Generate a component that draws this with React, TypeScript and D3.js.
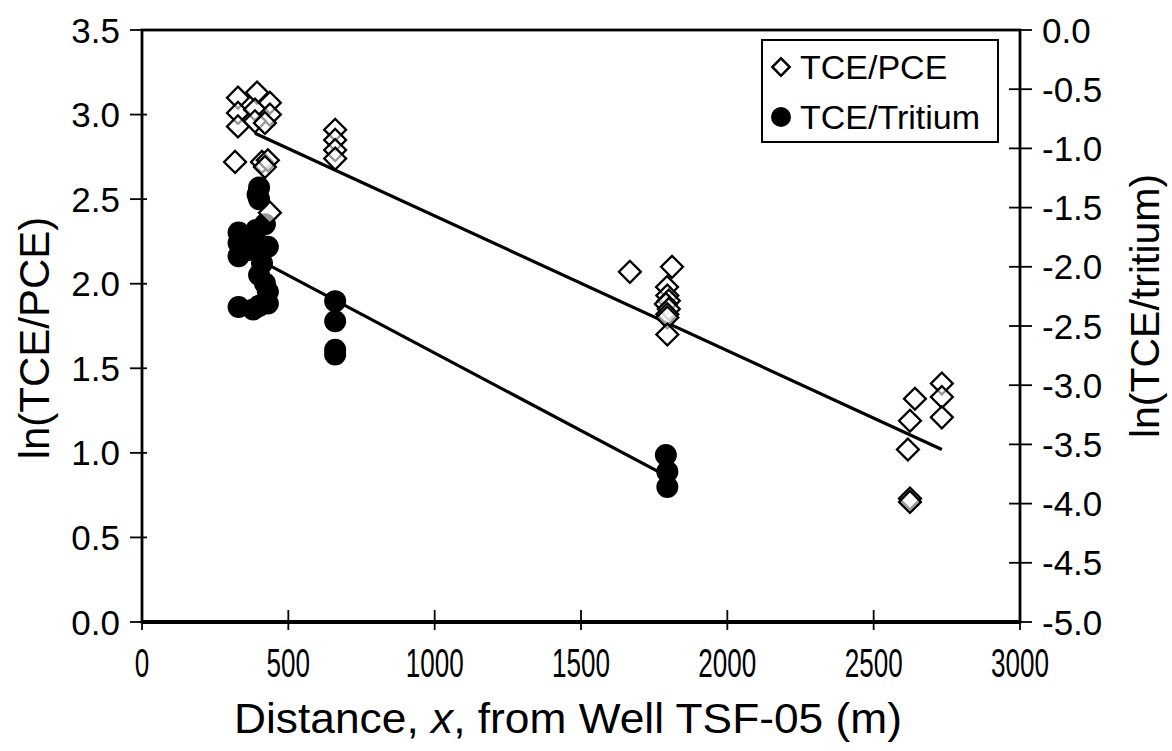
import React from "react";
import * as d3 from "d3";

// ---- data ----
// TCE/PCE: distance (m), ln(TCE/PCE)  (left axis)
const pceDist = [328, 393, 328, 386, 437, 437, 328, 386, 420, 318, 410, 430, 420, 437,
  660, 660, 660, 660,
  1667, 1811, 1794, 1795, 1800, 1790, 1800, 1795, 1795, 1795,
  2733, 2733, 2733, 2641, 2624, 2617, 2624, 2624];
const pceVal = [3.10, 3.13, 3.01, 3.03, 3.07, 3.00, 2.93, 2.96, 2.95, 2.72, 2.72, 2.73, 2.69, 2.42,
  2.91, 2.85, 2.79, 2.74,
  2.07, 2.10, 1.98, 1.93, 1.90, 1.88, 1.85, 1.82, 1.80, 1.70,
  1.41, 1.33, 1.21, 1.32, 1.19, 1.02, 0.73, 0.71];
// TCE/Tritium: distance (m), ln(TCE/tritium)  (right axis)
const triDist = [400, 400, 395, 330, 330, 330, 360, 360, 390, 390, 420, 430, 410, 400, 420, 430, 430, 330, 380, 400,
  660, 660, 660, 660,
  1790, 1795, 1795];
const triVal = [-1.33, -1.43, -1.39, -1.71, -1.80, -1.91, -1.74, -1.86, -1.69, -1.83, -1.64, -1.83, -1.97, -2.07, -2.14, -2.21, -2.31, -2.34, -2.36, -2.33,
  -2.29, -2.46, -2.70, -2.74,
  -3.59, -3.73, -3.86];
// fitted lines (endpoints)
const pceFitDist = [386, 2733];
const pceFitVal = [2.89, 1.02];
const triFitDist = [437, 1787];
const triFitVal = [-1.99, -3.76];

const xTicks = [0, 500, 1000, 1500, 2000, 2500, 3000];
const yLeftTicks = [0, 0.5, 1, 1.5, 2, 2.5, 3, 3.5];
const yRightTicks = [0, -0.5, -1, -1.5, -2, -2.5, -3, -3.5, -4, -4.5, -5];
const legendLabels = ["TCE/PCE", "TCE/Tritium"];

const W = 1172, H = 751;
const L = 142, R = 1020, T = 30, B = 622;
const FONT = "'Liberation Sans', Arial, Helvetica, sans-serif";

export default function App() {
  const x = d3.scaleLinear().domain([0, 3000]).range([L, R]);
  const yL = d3.scaleLinear().domain([0, 3.5]).range([B, T]);
  const yR = d3.scaleLinear().domain([-5, 0]).range([B, T]);
  const diamond = d3.symbol().type(d3.symbolSquare).size(240)();
  const line = d3.line<[number, number]>();
  const pceLine = line(pceFitDist.map((d, i) => [x(d), yL(pceFitVal[i])]));
  const triLine = line(triFitDist.map((d, i) => [x(d), yR(triFitVal[i])]));

  return (
    <svg width={W} height={H} style={{ position: "absolute", left: 0, top: 0, background: "#fff" }}
      fontFamily={FONT}>
      <rect x={0} y={0} width={W} height={H} fill="#fff" />
      {/* frame */}
      <rect x={L} y={T} width={R - L} height={B - T} fill="none" stroke="#000" strokeWidth={2.8} />
      <line x1={L} x2={R} y1={B} y2={B} stroke="#000" strokeWidth={3.8} />
      {/* left ticks */}
      {yLeftTicks.map((t) => (
        <g key={"yl" + t}>
          <line x1={L - 12} x2={L + 5} y1={yL(t)} y2={yL(t)} stroke="#000" strokeWidth={1.8} />
          <text x={L - 22} y={yL(t)} dy="0.36em" textAnchor="end" fontSize={35}>{t.toFixed(1)}</text>
        </g>
      ))}
      {/* right ticks */}
      {yRightTicks.map((t) => (
        <g key={"yr" + t}>
          <line x1={R - 11} x2={R + 12} y1={yR(t)} y2={yR(t)} stroke="#000" strokeWidth={1.8} />
          <text x={R + 22} y={yR(t)} dy="0.36em" textAnchor="start" fontSize={35}>{t === 0 ? "0.0" : t.toFixed(1)}</text>
        </g>
      ))}
      {/* x ticks */}
      {xTicks.map((t) => (
        <g key={"x" + t}>
          <line x1={x(t)} x2={x(t)} y1={B - 12} y2={B + 8} stroke="#000" strokeWidth={1.8} />
          <text x={x(t)} y={B + 55} textAnchor="middle" fontSize={40}
            textLength={String(t).length * 14.5} lengthAdjust="spacingAndGlyphs">{t}</text>
        </g>
      ))}
      {/* axis titles */}
      <text x={568} y={733} textAnchor="middle" fontSize={42}
        textLength={668} lengthAdjust="spacingAndGlyphs">
        Distance, <tspan fontStyle="italic">x</tspan>, from Well TSF-05 (m)
      </text>
      <text transform={`translate(49,${(T + B) / 2 + 12}) rotate(-90)`} textAnchor="middle" fontSize={42}>ln(TCE/PCE)</text>
      <text transform={`translate(1159,${(T + B) / 2 - 20}) rotate(-90)`} textAnchor="middle" fontSize={41}>ln(TCE/tritium)</text>
      {/* fitted lines */}
      <path d={pceLine || ""} fill="none" stroke="#000" strokeWidth={3.2} />
      <path d={triLine || ""} fill="none" stroke="#000" strokeWidth={3.2} />
      {/* TCE/Tritium points */}
      {triDist.map((d, i) => (
        <circle key={"c" + i} cx={x(d)} cy={yR(triVal[i])} r={11} fill="#000" />
      ))}
      {/* TCE/PCE points */}
      {pceDist.map((d, i) => (
        <path key={"d" + i} d={diamond} transform={`translate(${x(d)},${yL(pceVal[i])}) rotate(45)`}
          fill="#fff" fillOpacity={0.6} stroke="#000" strokeWidth={2.3} />
      ))}
      {/* legend */}
      <rect x={762} y={40} width={236} height={102} fill="#fff" stroke="#000" strokeWidth={2} />
      <path d={d3.symbol().type(d3.symbolSquare).size(150)()} transform="translate(781,67) rotate(45)"
        fill="#fff" stroke="#000" strokeWidth={2.5} />
      <text x={800} y={67} dy="0.36em" fontSize={34}>{legendLabels[0]}</text>
      <circle cx={781} cy={117} r={10} fill="#000" />
      <text x={800} y={117} dy="0.36em" fontSize={34}>{legendLabels[1]}</text>
    </svg>
  );
}
